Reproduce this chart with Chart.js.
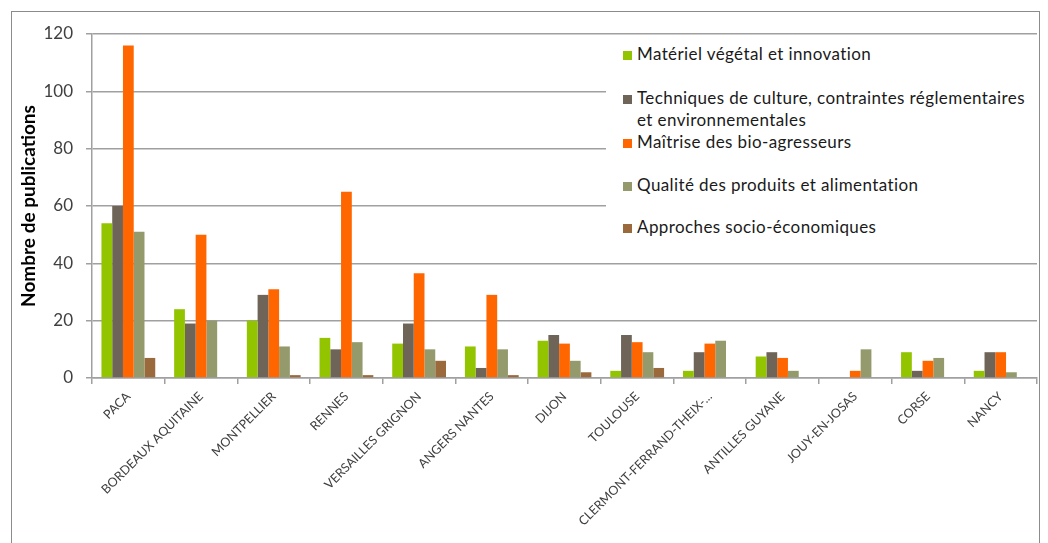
<!DOCTYPE html>
<html>
<head>
<meta charset="utf-8">
<script src="https://cdn.jsdelivr.net/npm/chart.js@4"></script>
<style>
    body { margin: 0; background: #fff; }
    #wrap { position: relative; width: 1048px; height: 543px; overflow: hidden; }
    #frame { position: absolute; left: 11px; top: 11px; width: 1027px; height: 600px; border: 1px solid #8c8c8c; pointer-events: none; }
    #legend { position: absolute; left: 606px; top: 37px; width: 431px; height: 212px; background: #fff; font-family: Lato, sans-serif; font-size: 17px; letter-spacing: 0.4px; color: #1a1a1a; }
    .item { position: absolute; left: 17px; line-height: 22px; white-space: nowrap; }
    .item i { display: inline-block; width: 9px; height: 9px; margin-right: 5px; vertical-align: 0px; }
    .item span { display: inline-block; margin-left: 14px; }
</style>
</head>
<body>
<div id="wrap">
    <canvas id="chart" width="1048" height="543"></canvas>
    <div id="frame"></div>
    <div id="legend"></div>
</div>
<script>
const categories = ['PACA', 'BORDEAUX AQUITAINE', 'MONTPELLIER', 'RENNES', 'VERSAILLES GRIGNON', 'ANGERS NANTES',
    'DIJON', 'TOULOUSE', 'CLERMONT-FERRAND-THEIX-...', 'ANTILLES GUYANE', 'JOUY-EN-JOSAS', 'CORSE', 'NANCY'];

const seriesNames = [
    'Matériel végétal et innovation',
    'Techniques de culture, contraintes réglementaires et environnementales',
    'Maîtrise des bio-agresseurs',
    'Qualité des produits et alimentation',
    'Approches socio-économiques'
];
const seriesColors = ['#92c400', '#6e6558', '#ff6600', '#949a6b', '#9b6a3c'];

const materielVegetal = [54, 24, 20, 14, 12, 11, 13, 2.5, 2.5, 7.5, 0, 9, 2.5];
const techniquesCulture = [60, 19, 29, 10, 19, 3.5, 15, 15, 9, 9, 0, 2.5, 9];
const bioAgresseurs = [116, 50, 31, 65, 36.5, 29, 12, 12.5, 12, 7, 2.5, 6, 9];
const qualiteProduits = [51, 20, 11, 12.5, 10, 10, 6, 9, 13, 2.5, 10, 7, 2];
const socioEco = [7, 0, 1, 1, 6, 1, 2, 3.5, 0, 0, 0, 0, 0];

const yTicks = [0, 20, 40, 60, 80, 100, 120];

const allSeries = [materielVegetal, techniquesCulture, bioAgresseurs, qualiteProduits, socioEco];

const datasets = allSeries.map((values, i) => ({
    label: seriesNames[i],
    data: values,
    backgroundColor: seriesColors[i],
    borderWidth: 0,
    categoryPercentage: 0.74,
    barPercentage: 1.0
}));

new Chart(document.getElementById('chart'), {
    type: 'bar',
    data: { labels: categories, datasets: datasets },
    options: {
        responsive: false,
        animation: false,
        layout: { padding: { top: 34, right: 11, left: 0, bottom: 0 } },
        plugins: {
            legend: { display: false },
            tooltip: { enabled: true }
        },
        scales: {
            x: {
                afterFit: scale => { scale.height = 165; },
                grid: { drawOnChartArea: false, drawTicks: true, tickLength: 6, color: '#a0a0a0', lineWidth: 1.5, offset: true },
                border: { color: '#a0a0a0', width: 1.5 },
                ticks: {
                    autoSkip: false,
                    minRotation: 45,
                    maxRotation: 45,
                    padding: 5,
                    color: '#404040',
                    font: { family: 'Lato', size: 12.5 }
                }
            },
            y: {
                min: 0,
                max: 120,
                afterFit: scale => { scale.width = 92; },
                afterBuildTicks: scale => { scale.ticks = yTicks.map(v => ({ value: v })); },
                grid: { color: '#a0a0a0', lineWidth: 1.5, tickLength: 6 },
                border: { color: '#a0a0a0', width: 1.5 },
                ticks: {
                    padding: 13,
                    color: '#404040',
                    font: { family: 'Lato', size: 17 }
                },
                title: {
                    display: true,
                    text: 'Nombre de publications',
                    color: '#000',
                    padding: { top: 17, bottom: 0 },
                    font: { family: 'Lato', size: 19, weight: 'bold' }
                }
            }
        }
    }
});

// legend drawn as html over the plot, like the original
const legendRows = [
    { top: 6, text: seriesNames[0] },
    { top: 50, text: 'Techniques de culture, contraintes réglementaires<br><span>et environnementales</span>' },
    { top: 94, text: seriesNames[2] },
    { top: 137, text: seriesNames[3] },
    { top: 179, text: seriesNames[4] }
];
const legendEl = document.getElementById('legend');
legendRows.forEach((row, i) => {
    const div = document.createElement('div');
    div.className = 'item';
    div.style.top = row.top + 'px';
    div.innerHTML = `<i style="background:${seriesColors[i]}"></i>${row.text}`;
    legendEl.appendChild(div);
});
</script>
</body>
</html>
